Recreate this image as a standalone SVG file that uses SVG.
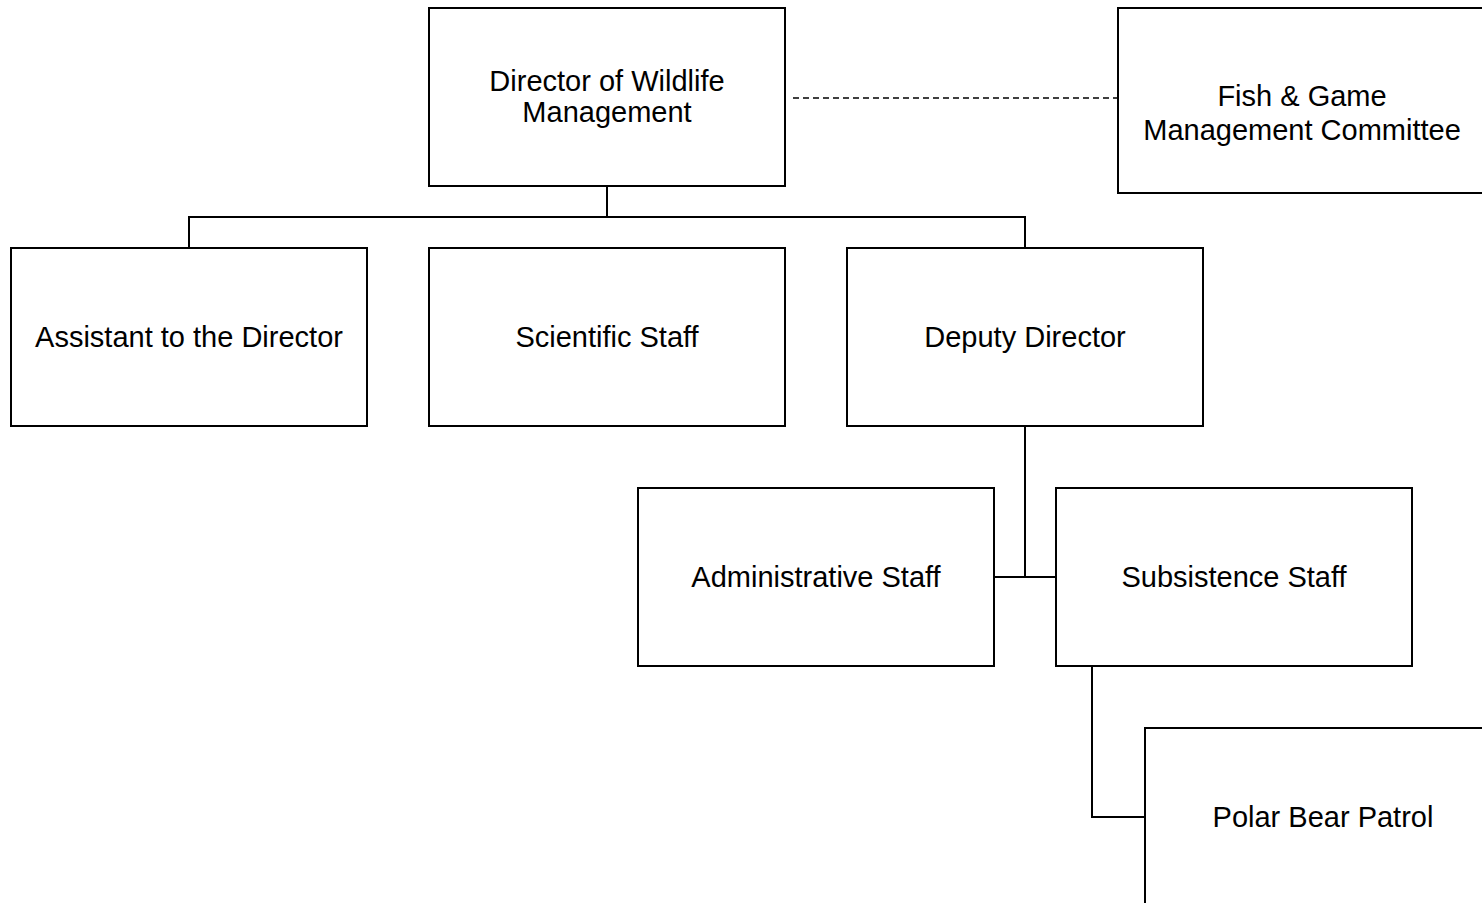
<svg xmlns="http://www.w3.org/2000/svg" width="1482" height="903" viewBox="0 0 1482 903">
<style>
.box{fill:#fff;stroke:#000;stroke-width:2}
.t{font-family:"Liberation Sans",Arial,sans-serif;font-size:29px;fill:#000;text-anchor:middle;dominant-baseline:central}
.c{fill:none;stroke:#000;stroke-width:2}
.d{fill:none;stroke:#000;stroke-width:1.5;stroke-dasharray:6,4}
</style>
<rect width="1482" height="903" fill="#fff"/>
<g id="connectors">
<path class="c" d="M607,186V217M189,248V217H1025V248"/>
<path class="c" d="M1025,426V577M994,577H1056"/>
<path class="c" d="M1092,666V817H1145"/>
<path class="d" d="M793,98H1118"/>
</g>
<g id="director"><rect class="box" x="429" y="8" width="356" height="178"/><text class="t" x="607" y="81">Director of Wildlife</text><text class="t" x="607" y="112">Management</text></g>
<g id="committee"><rect class="box" x="1118" y="8" width="380" height="185"/><text class="t" x="1302" y="96">Fish &amp; Game</text><text class="t" x="1302" y="130">Management Committee</text></g>
<g id="assistant"><rect class="box" x="11" y="248" width="356" height="178"/><text class="t" x="189" y="337">Assistant to the Director</text></g>
<g id="scientific"><rect class="box" x="429" y="248" width="356" height="178"/><text class="t" x="607" y="337">Scientific Staff</text></g>
<g id="deputy"><rect class="box" x="847" y="248" width="356" height="178"/><text class="t" x="1025" y="337">Deputy Director</text></g>
<g id="administrative"><rect class="box" x="638" y="488" width="356" height="178"/><text class="t" x="816" y="577">Administrative Staff</text></g>
<g id="subsistence"><rect class="box" x="1056" y="488" width="356" height="178"/><text class="t" x="1234" y="577">Subsistence Staff</text></g>
<g id="polar"><rect class="box" x="1145" y="728" width="356" height="200"/><text class="t" x="1323" y="817">Polar Bear Patrol</text></g>
</svg>
